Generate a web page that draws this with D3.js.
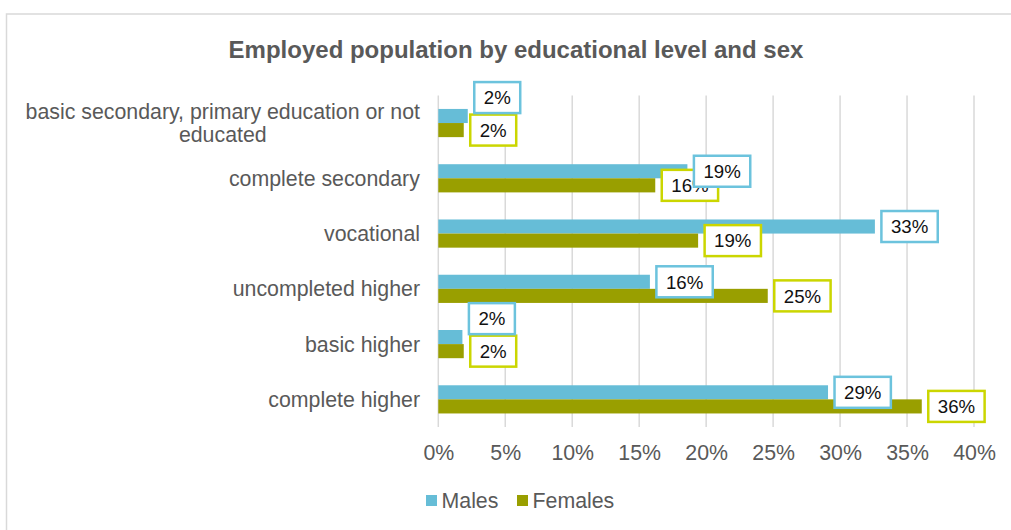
<!DOCTYPE html>
<html>
<head>
<meta charset="utf-8">
<script src="https://cdn.jsdelivr.net/npm/d3@7"></script>
<style>
  html, body { margin: 0; padding: 0; background: #fff; }
  svg { display: block; font-family: "Liberation Sans", Arial, sans-serif; }
</style>
</head>
<body>
<svg id="chart" width="1011" height="530"></svg>
<script>
// Education levels, top to bottom
const categories = [
  ["basic secondary, primary education or not", "educated"],
  ["complete secondary"],
  ["vocational"],
  ["uncompleted higher"],
  ["basic higher"],
  ["complete higher"]
];
// Share of employed population, %
const males   = [2.2, 18.6, 32.6, 15.8, 1.8, 29.1];
const females = [1.9, 16.2, 19.4, 24.6, 1.9, 36.1];
const seriesNames = ["Males", "Females"];
const xTicks = [0, 5, 10, 15, 20, 25, 30, 35, 40];

const colors = {
  Males:   { bar: "#66BDD7", border: "#6CC3DD" },
  Females: { bar: "#999F00", border: "#CBD600" }
};

const FONT = "Liberation Sans, Arial, sans-serif";
const svg = d3.select("#chart");
const W = 1011, H = 530;
const plot = { left: 438.3, right: 974, top: 95.4, bottom: 427 };

// Outer chart frame
svg.append("rect")
  .attr("x", 6.5).attr("y", 14).attr("width", W + 10).attr("height", H)
  .attr("fill", "#fff").attr("stroke", "#d9d9d9").attr("stroke-width", 1.5);

// Title
svg.append("text")
  .attr("x", 516).attr("y", 58)
  .attr("text-anchor", "middle")
  .attr("font-size", 24).attr("font-weight", "bold").attr("fill", "#595959")
  .text("Employed population by educational level and sex");

const x = d3.scaleLinear().domain([0, 40]).range([plot.left, plot.right]);
const y = d3.scaleBand().domain(d3.range(categories.length))
  .range([plot.top, plot.bottom]).paddingInner(0.49).paddingOuter(0.245);
const ySub = d3.scaleBand().domain(seriesNames).range([0, y.bandwidth()]);

// Vertical gridlines
svg.append("g").selectAll("line").data(xTicks).join("line")
  .attr("x1", d => x(d)).attr("x2", d => x(d))
  .attr("y1", plot.top).attr("y2", plot.bottom)
  .attr("stroke", "#d9d9d9").attr("stroke-width", 1.5);

// X axis tick labels
const xAxis = d3.axisBottom(x).tickValues(xTicks).tickFormat(d => d + "%").tickSize(0).tickPadding(0);
const gx = svg.append("g").attr("transform", `translate(0, ${plot.bottom + 18})`).call(xAxis);
gx.attr("font-family", FONT);
gx.select(".domain").remove();
gx.selectAll("text").attr("font-size", 21.33).attr("fill", "#595959").attr("dy", "0.71em");

// Category labels
const catG = svg.append("g");
categories.forEach((lines, i) => {
  const cy = y(i) + y.bandwidth() / 2;
  const lh = 22.5;
  const t = catG.append("text")
    .attr("font-size", 21.33).attr("fill", "#595959").attr("text-anchor", "middle");
  lines.forEach((ln, k) => {
    t.append("tspan").attr("x", 0)
      .attr("y", cy + (k - (lines.length - 1) / 2) * lh)
      .attr("dy", "0.35em").text(ln);
  });
  // right-align the block while keeping lines centred to each other
  const bb = t.node().getBBox();
  t.attr("transform", `translate(${420 - bb.width / 2}, 0)`);
});

// Bars
const data = [];
categories.forEach((c, i) => {
  data.push({ i, s: "Males", v: males[i] });
  data.push({ i, s: "Females", v: females[i] });
});
svg.append("g").selectAll("rect").data(data).join("rect")
  .attr("x", x(0))
  .attr("y", d => y(d.i) + ySub(d.s))
  .attr("width", d => x(d.v) - x(0))
  .attr("height", ySub.bandwidth())
  .attr("fill", d => colors[d.s].bar);

// Data labels: boxed callouts just past the bar end
const labelG = svg.append("g");
const padX = 9.5, boxH = 31, gap = 6.5;
function makeLabel(d) {
  const g = labelG.append("g");
  const rect = g.append("rect").attr("fill", "#fff")
    .attr("stroke", colors[d.s].border).attr("stroke-width", 2.5);
  const t = g.append("text").attr("font-size", 18.67).attr("fill", "#111")
    .attr("text-anchor", "middle").attr("dy", "0.36em")
    .text(Math.round(d.v) + "%");
  const tw = t.node().getComputedTextLength();
  const w = tw + padX * 2;
  const box = { x: x(d.v) + gap, y: y(d.i) + ySub(d.s) + ySub.bandwidth() / 2 - boxH / 2, w, h: boxH };
  return { g, rect, t, box };
}
function place(l) {
  l.rect.attr("x", l.box.x).attr("y", l.box.y).attr("width", l.box.w).attr("height", l.box.h);
  l.t.attr("x", l.box.x + l.box.w / 2).attr("y", l.box.y + l.box.h / 2);
}
// Females drawn first so male callouts sit on top
const femLabels = data.filter(d => d.s === "Females").map(makeLabel);
const maleLabels = data.filter(d => d.s === "Males").map(makeLabel);
maleLabels.forEach((m, i) => {
  const f = femLabels[i];
  const overlapX = Math.min(m.box.x + m.box.w, f.box.x + f.box.w) - Math.max(m.box.x, f.box.x);
  // when the two callouts would stack almost exactly, lift the male one above
  if (overlapX > 0.8 * Math.min(m.box.w, f.box.w)) {
    m.box.y = f.box.y - m.box.h - 1.5;
  }
});
femLabels.forEach(place);
maleLabels.forEach(place);
// keep male callouts above female ones in paint order
maleLabels.forEach(l => labelG.node().appendChild(l.g.node()));

// Legend
const legend = svg.append("g");
const legendItems = [{ s: "Males", x: 426 }, { s: "Females", x: 517 }];
legendItems.forEach(it => {
  legend.append("rect").attr("x", it.x).attr("y", 495).attr("width", 11).attr("height", 11)
    .attr("fill", colors[it.s].bar);
  legend.append("text").attr("x", it.x + 15.5).attr("y", 500.5).attr("dy", "0.35em")
    .attr("font-size", 21.33).attr("fill", "#595959").text(it.s);
});
</script>
</body>
</html>
